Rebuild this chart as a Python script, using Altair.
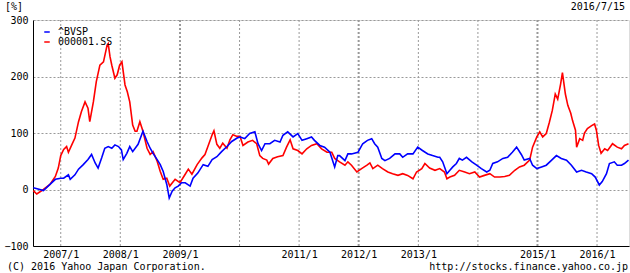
import altair as alt
import pandas as pd

# 000001.SS (red) : decimal-year time and % change
red_t = [2006.54, 2006.60, 2006.71, 2006.82, 2006.91, 2006.96, 2007.00, 2007.05, 2007.10, 2007.13,
         2007.19, 2007.24, 2007.30, 2007.35, 2007.41, 2007.46, 2007.49, 2007.55, 2007.60, 2007.66,
         2007.72, 2007.78, 2007.80, 2007.83, 2007.86, 2007.91, 2007.95, 2007.99, 2008.03, 2008.08,
         2008.12, 2008.16, 2008.21, 2008.25, 2008.28, 2008.33, 2008.38, 2008.45, 2008.50, 2008.55,
         2008.62, 2008.67, 2008.72, 2008.78, 2008.83, 2008.92, 2009.00, 2009.09, 2009.14, 2009.20,
         2009.29, 2009.37, 2009.42, 2009.47, 2009.54, 2009.57, 2009.62, 2009.67, 2009.72, 2009.79,
         2009.84, 2009.89, 2009.96, 2010.01, 2010.06, 2010.14, 2010.22, 2010.29, 2010.34, 2010.39,
         2010.46, 2010.49, 2010.56, 2010.64, 2010.73, 2010.79, 2010.85, 2010.90, 2010.98, 2011.05,
         2011.13, 2011.21, 2011.30, 2011.38, 2011.47, 2011.55, 2011.60, 2011.68, 2011.77, 2011.82,
         2011.88, 2011.97, 2012.05, 2012.14, 2012.19, 2012.24, 2012.32, 2012.40, 2012.49, 2012.57,
         2012.66, 2012.74, 2012.82, 2012.91, 2012.97, 2013.06, 2013.11, 2013.19, 2013.28, 2013.36,
         2013.44, 2013.48, 2013.53, 2013.61, 2013.69, 2013.78, 2013.86, 2013.95, 2014.03, 2014.11,
         2014.20, 2014.28, 2014.37, 2014.45, 2014.53, 2014.62, 2014.70, 2014.78, 2014.87, 2014.92,
         2014.99, 2015.04, 2015.09, 2015.15, 2015.20, 2015.25, 2015.30, 2015.34, 2015.39, 2015.42,
         2015.47, 2015.51, 2015.56, 2015.59, 2015.64, 2015.66, 2015.71, 2015.76, 2015.79, 2015.84,
         2015.91, 2015.96, 2015.99, 2016.03, 2016.07, 2016.13, 2016.18, 2016.26, 2016.34, 2016.41,
         2016.46, 2016.53]
red_v = [-2, -8, 0, 9, 23, 38, 60, 71, 76, 66,
         80, 91, 120, 138, 155, 144, 120, 155, 191, 220,
         226, 255, 258, 235, 220, 197, 203, 220, 226, 185,
         173, 155, 114, 103, 103, 120, 103, 73, 62, 67,
         50, 32, 18, 20, 6, 18, 12, 27, 36, 27,
         44, 56, 62, 76, 97, 104, 80, 73, 82, 73,
         88, 97, 94, 94, 78, 84, 87, 81, 60, 55,
         52, 45, 55, 58, 60, 75, 88, 72, 69, 63,
         72, 78, 81, 72, 66, 66, 55, 49, 43, 49,
         43, 31, 37, 43, 47, 37, 43, 37, 31, 28,
         25, 28, 25, 19, 31, 37, 46, 38, 34, 37,
         31, 19, 22, 25, 34, 31, 28, 31, 22, 25,
         28, 22, 22, 23, 25, 34, 40, 43, 52, 75,
         93, 102, 93, 99, 119, 140, 169, 160, 187, 207,
         169, 149, 135, 122, 105, 75, 90, 87, 100, 108,
         113, 116, 105, 78, 64, 72, 69, 81, 75, 72,
         78, 81]

# ^BVSP (blue)
blue_t = [2006.54, 2006.65, 2006.71, 2006.82, 2006.91, 2007.00, 2007.05, 2007.13, 2007.16, 2007.24,
          2007.30, 2007.38, 2007.46, 2007.52, 2007.58, 2007.63, 2007.69, 2007.74, 2007.80, 2007.86,
          2007.91, 2007.97, 2008.02, 2008.05, 2008.11, 2008.16, 2008.21, 2008.30, 2008.38, 2008.45,
          2008.50, 2008.55, 2008.62, 2008.67, 2008.72, 2008.78, 2008.82, 2008.87, 2008.92, 2008.97,
          2009.03, 2009.09, 2009.17, 2009.22, 2009.30, 2009.39, 2009.47, 2009.54, 2009.62, 2009.70,
          2009.79, 2009.87, 2009.96, 2010.01, 2010.09, 2010.17, 2010.26, 2010.31, 2010.37, 2010.43,
          2010.51, 2010.59, 2010.68, 2010.73, 2010.81, 2010.90, 2010.98, 2011.05, 2011.13, 2011.21,
          2011.26, 2011.35, 2011.43, 2011.52, 2011.60, 2011.65, 2011.68, 2011.77, 2011.82, 2011.88,
          2011.99, 2012.07, 2012.15, 2012.22, 2012.27, 2012.32, 2012.39, 2012.44, 2012.52, 2012.61,
          2012.69, 2012.74, 2012.82, 2012.91, 2012.99, 2013.07, 2013.16, 2013.24, 2013.33, 2013.36,
          2013.41, 2013.48, 2013.53, 2013.58, 2013.64, 2013.69, 2013.74, 2013.81, 2013.90, 2013.98,
          2014.06, 2014.15, 2014.20, 2014.25, 2014.33, 2014.42, 2014.50, 2014.58, 2014.65, 2014.73,
          2014.78, 2014.87, 2014.92, 2014.99, 2015.07, 2015.15, 2015.24, 2015.32, 2015.40, 2015.49,
          2015.57, 2015.66, 2015.74, 2015.82, 2015.91, 2015.97, 2016.04, 2016.09, 2016.16, 2016.21,
          2016.29, 2016.34, 2016.41, 2016.46, 2016.53]
blue_v = [3, 0, -2, 9, 18, 20, 20, 26, 18, 26,
          36, 44, 53, 62, 47, 38, 56, 73, 76, 73,
          79, 76, 70, 53, 64, 76, 67, 80, 103, 85,
          73, 64, 53, 44, 32, 9, -15, -3, 3, 6,
          12, 12, 6, 20, 29, 44, 41, 53, 58, 67,
          76, 85, 91, 93, 90, 99, 102, 81, 69, 81,
          81, 87, 84, 96, 102, 93, 99, 87, 90, 93,
          87, 78, 75, 66, 40, 60, 60, 51, 63, 63,
          66, 81, 87, 90, 81, 75, 55, 51, 55, 63,
          63, 57, 63, 63, 75, 69, 63, 60, 57, 57,
          49, 28, 34, 40, 46, 55, 52, 57, 49, 43,
          37, 31, 34, 46, 49, 55, 57, 66, 75, 62,
          52, 55, 43, 37, 40, 43, 52, 60, 55, 52,
          43, 31, 34, 31, 28, 22, 8, 14, 28, 46,
          49, 43, 43, 46, 52]

series_names = ["^BVSP", "000001.SS"]
series_colors = ["#0000ff", "#ff0000"]

grid_years = [2007, 2008, 2010, 2011, 2013, 2014, 2016]
grid_years_bold = [2009, 2012, 2015]
label_years = [2007, 2008, 2009, 2011, 2012, 2013, 2015, 2016]


def to_date(t):
    y = int(t)
    start = pd.Timestamp(year=y, month=1, day=1)
    end = pd.Timestamp(year=y + 1, month=1, day=1)
    return (start + (end - start) * (t - y)).strftime("%Y-%m-%d")


red_df = pd.DataFrame({"date": [to_date(t) for t in red_t], "value": red_v, "name": series_names[1]})
blue_df = pd.DataFrame({"date": [to_date(t) for t in blue_t], "value": blue_v, "name": series_names[0]})
grid_df = pd.DataFrame({"date": [f"{y}-01-01" for y in grid_years]})
grid_bold_df = pd.DataFrame({"date": [f"{y}-01-01" for y in grid_years_bold]})

FONT = "DejaVu Sans Mono"
FS = 10

xscale = alt.Scale(domain=["2006-07-15", "2016-07-15"])
yscale = alt.Scale(domain=[-100, 300], nice=False)
cscale = alt.Scale(domain=series_names, range=series_colors)

x_enc = alt.X("date:T", scale=xscale, title=None,
              axis=alt.Axis(values=[alt.DateTime(year=y, month=1, date=1) for y in label_years],
                            format="%Y/%-m", grid=False, ticks=False, labelPadding=3,
                            labelFont=FONT, labelFontSize=FS, labelColor="#000",
                            domainColor="#000", labelFlush=False))
y_enc = alt.Y("value:Q", scale=yscale, title=None,
              axis=alt.Axis(values=[-100, 0, 100, 200, 300], grid=True, gridDash=[2, 2],
                            gridColor="#999999", ticks=False, labelPadding=5,
                            labelFont=FONT, labelFontSize=FS, labelColor="#000",
                            domainColor="#000"))

grid = alt.Chart(grid_df).mark_rule(color="#999999", strokeDash=[2, 2], strokeWidth=1).encode(
    x=alt.X("date:T", scale=xscale))
grid_bold = alt.Chart(grid_bold_df).mark_rule(color="#999999", strokeDash=[2, 2], strokeWidth=2).encode(
    x=alt.X("date:T", scale=xscale))

legend = alt.Legend(title=None, orient="none", legendX=9, legendY=7, symbolType="stroke",
                    symbolSize=30, symbolStrokeWidth=1.5, labelFont=FONT, labelFontSize=FS,
                    labelColor="#000", rowPadding=0, labelOffset=6, padding=0)

red_line = alt.Chart(red_df).mark_line(strokeWidth=1.6).encode(
    x=x_enc, y=y_enc, color=alt.Color("name:N", scale=cscale, legend=legend))
blue_line = alt.Chart(blue_df).mark_line(strokeWidth=1.6).encode(
    x=alt.X("date:T", scale=xscale), y=alt.Y("value:Q", scale=yscale),
    color=alt.Color("name:N", scale=cscale, legend=legend))


def txt(s, x, y, align):
    return alt.Chart(pd.DataFrame({"t": [s]})).mark_text(
        font=FONT, fontSize=FS, color="#000", align=align, baseline="middle").encode(
        text="t:N", x=alt.value(x), y=alt.value(y))


texts = (txt("[%]", -28, -13, "left") + txt("2016/7/15", 592, -13, "right")
         + txt("(C) 2016 Yahoo Japan Corporation.", -26, 247, "left")
         + txt("http://stocks.finance.yahoo.co.jp", 595, 247, "right"))

chart = alt.layer(grid, grid_bold, red_line, blue_line, texts).properties(
    width=596, height=226,
    autosize=alt.AutoSizeParams(type="none"),
    padding={"left": 33, "top": 20, "right": 1, "bottom": 27},
).configure_view(stroke="#000", strokeWidth=1).configure(background="#ffffff")

chart.save("out.html", embed_options={"renderer": "svg", "actions": False})
